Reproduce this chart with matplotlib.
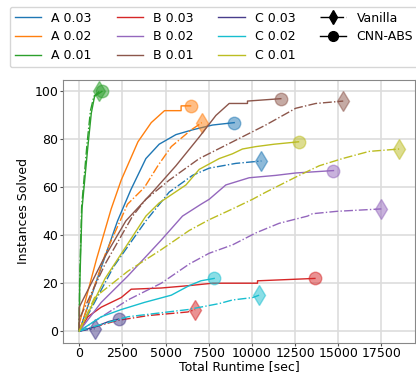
import matplotlib
matplotlib.use("Agg")
import matplotlib.pyplot as plt
from matplotlib.lines import Line2D

# cumulative runtime [sec] vs instances solved
a01_cnn_x = [0, 30, 160, 500, 700, 890, 1100, 1310]
a01_cnn_y = [0, 19, 51, 77, 91, 98, 99, 100]
a01_van_x = [0, 20, 140, 450, 650, 850, 1160]
a01_van_y = [0, 20, 52, 78, 92, 98, 100]

a02_cnn_x = [0, 0, 1000, 1850, 2430, 3400, 4170, 4940, 5900, 5900, 6450]
a02_cnn_y = [0, 3, 30, 51, 63, 79, 87, 92, 92, 94, 94]
a02_van_x = [0, 1500, 2800, 3780, 4555, 5330, 6485, 6900, 7100]
a02_van_y = [0, 32, 53, 60, 69, 77, 84, 86, 87]

a03_cnn_x = [0, 1200, 2220, 2990, 3860, 4630, 5600, 6560, 7140, 7720, 8975]
a03_cnn_y = [0, 25, 46, 59, 72, 78, 82, 84, 85, 86, 87]
a03_van_x = [0, 2000, 3860, 5210, 6560, 7525, 9070, 10555]
a03_van_y = [0, 27, 46, 58, 65, 68, 70, 71]

b01_cnn_x = [0, 0, 1400, 2700, 4245, 5600, 6950, 7915, 8685, 9745, 9745, 11675]
b01_cnn_y = [0, 10, 30, 46, 58, 69, 81, 90, 95, 95, 96, 97]
b01_van_x = [0, 0, 1500, 3090, 3860, 5210, 6950, 8880, 10800, 12540, 13700, 15290]
b01_van_y = [0, 5, 28, 48, 55, 63, 72, 79, 86, 93, 95, 96]

b02_cnn_x = [0, 1275, 2815, 4750, 5980, 7064, 7525, 8490, 9840, 11390, 12545, 14725]
b02_cnn_y = [0, 12, 23, 38, 48, 53, 55, 61, 64, 65, 66, 67]
b02_van_x = [0, 2815, 4750, 6370, 7525, 8880, 10230, 11580, 13220, 13510, 14930, 17500]
b02_van_y = [0, 13, 20, 28, 32.5, 36, 41, 45, 48, 49, 50, 51]

b03_cnn_x = [0, 500, 1275, 2430, 3010, 4750, 6370, 7720, 10325, 10325, 13650]
b03_cnn_y = [0, 6, 10, 14, 17.5, 18, 19, 20, 20, 21, 22]
b03_van_x = [0, 2240, 4000, 6290, 6715]
b03_van_y = [0, 4.5, 6.5, 8, 9]

c01_cnn_x = [0, 1500, 3860, 4630, 6180, 6950, 8105, 8875, 9455, 10230, 11290, 12700]
c01_cnn_y = [0, 22, 48, 53.5, 61, 67.5, 72, 74, 76, 77, 78, 79]
c01_van_x = [0, 885, 2815, 4750, 6370, 7525, 8875, 10035, 10810, 12740, 13900, 15245, 16790, 18530]
c01_van_y = [0, 14, 25, 34, 42, 46.5, 51, 55, 58, 65, 69, 72, 75, 76]

c02_cnn_x = [0, 1275, 2430, 3780, 5330, 6370, 7045, 7815]
c02_cnn_y = [0, 6, 9, 12, 15, 19, 21, 22]
c02_van_x = [0, 885, 2815, 6290, 8105, 8875, 10035, 10420]
c02_van_y = [0, 2, 6, 9, 11.5, 13, 14, 15]

c03_cnn_x = [0, 500, 1000, 1700, 2275]
c03_cnn_y = [0, 1, 2, 4, 5]
c03_van_x = [0, 400, 885]
c03_van_y = [0, 0.5, 1]

series = [
    ("A 0.03", "tab:blue", a03_cnn_x, a03_cnn_y, a03_van_x, a03_van_y),
    ("A 0.02", "tab:orange", a02_cnn_x, a02_cnn_y, a02_van_x, a02_van_y),
    ("A 0.01", "tab:green", a01_cnn_x, a01_cnn_y, a01_van_x, a01_van_y),
    ("B 0.03", "tab:red", b03_cnn_x, b03_cnn_y, b03_van_x, b03_van_y),
    ("B 0.02", "tab:purple", b02_cnn_x, b02_cnn_y, b02_van_x, b02_van_y),
    ("B 0.01", "tab:brown", b01_cnn_x, b01_cnn_y, b01_van_x, b01_van_y),
    ("C 0.03", "darkslateblue", c03_cnn_x, c03_cnn_y, c03_van_x, c03_van_y),
    ("C 0.02", "tab:cyan", c02_cnn_x, c02_cnn_y, c02_van_x, c02_van_y),
    ("C 0.01", "tab:olive", c01_cnn_x, c01_cnn_y, c01_van_x, c01_van_y),
]

fig = plt.figure(figsize=(4.16, 3.75), dpi=100)
ax = fig.add_axes([0.152, 0.085, 0.846, 0.703])

handles = []
for name, col, cx, cy, vx, vy in series:
    ax.plot(vx, vy, color=col, lw=1.0, ls="-.")
    ax.plot(cx, cy, color=col, lw=1.0, ls="-")
    ax.plot(vx[-1], vy[-1], marker="d", ms=10, color=col, alpha=0.5, ls="none")
    ax.plot(cx[-1], cy[-1], marker="o", ms=9, color=col, alpha=0.5, ls="none")
    handles.append(Line2D([], [], color=col, lw=1.0, label=name))

handles.append(Line2D([], [], color="black", lw=1.0, ls="-.", marker="d", ms=7, label="Vanilla"))
handles.append(Line2D([], [], color="black", lw=1.0, ls="-", marker="o", ms=7, label="CNN-ABS"))
handles.append(Line2D([], [], color="none", label=""))

ax.set_xticks([0, 2500, 5000, 7500, 10000, 12500, 15000, 17500])
ax.set_yticks([0, 20, 40, 60, 80, 100])
ax.tick_params(labelsize=9, color="#555555", length=2.5, pad=1.0)
ax.tick_params(axis="x", pad=0.5)
ax.grid(True, color="#dddddd", lw=1.2)
ax.set_axisbelow(True)
for s in ax.spines.values():
    s.set_color("#888888")
ax.set_xlabel("Total Runtime [sec]", fontsize=9, labelpad=0)
ax.set_ylabel("Instances Solved", fontsize=9, labelpad=3)

fig.legend(handles=handles, ncol=4, fontsize=9, loc="upper left",
           bbox_to_anchor=(0.024, 0.982), handlelength=2.1, handletextpad=0.8,
           columnspacing=2.0, labelspacing=0.45, borderaxespad=0)

fig.savefig("out.png", dpi=100)
